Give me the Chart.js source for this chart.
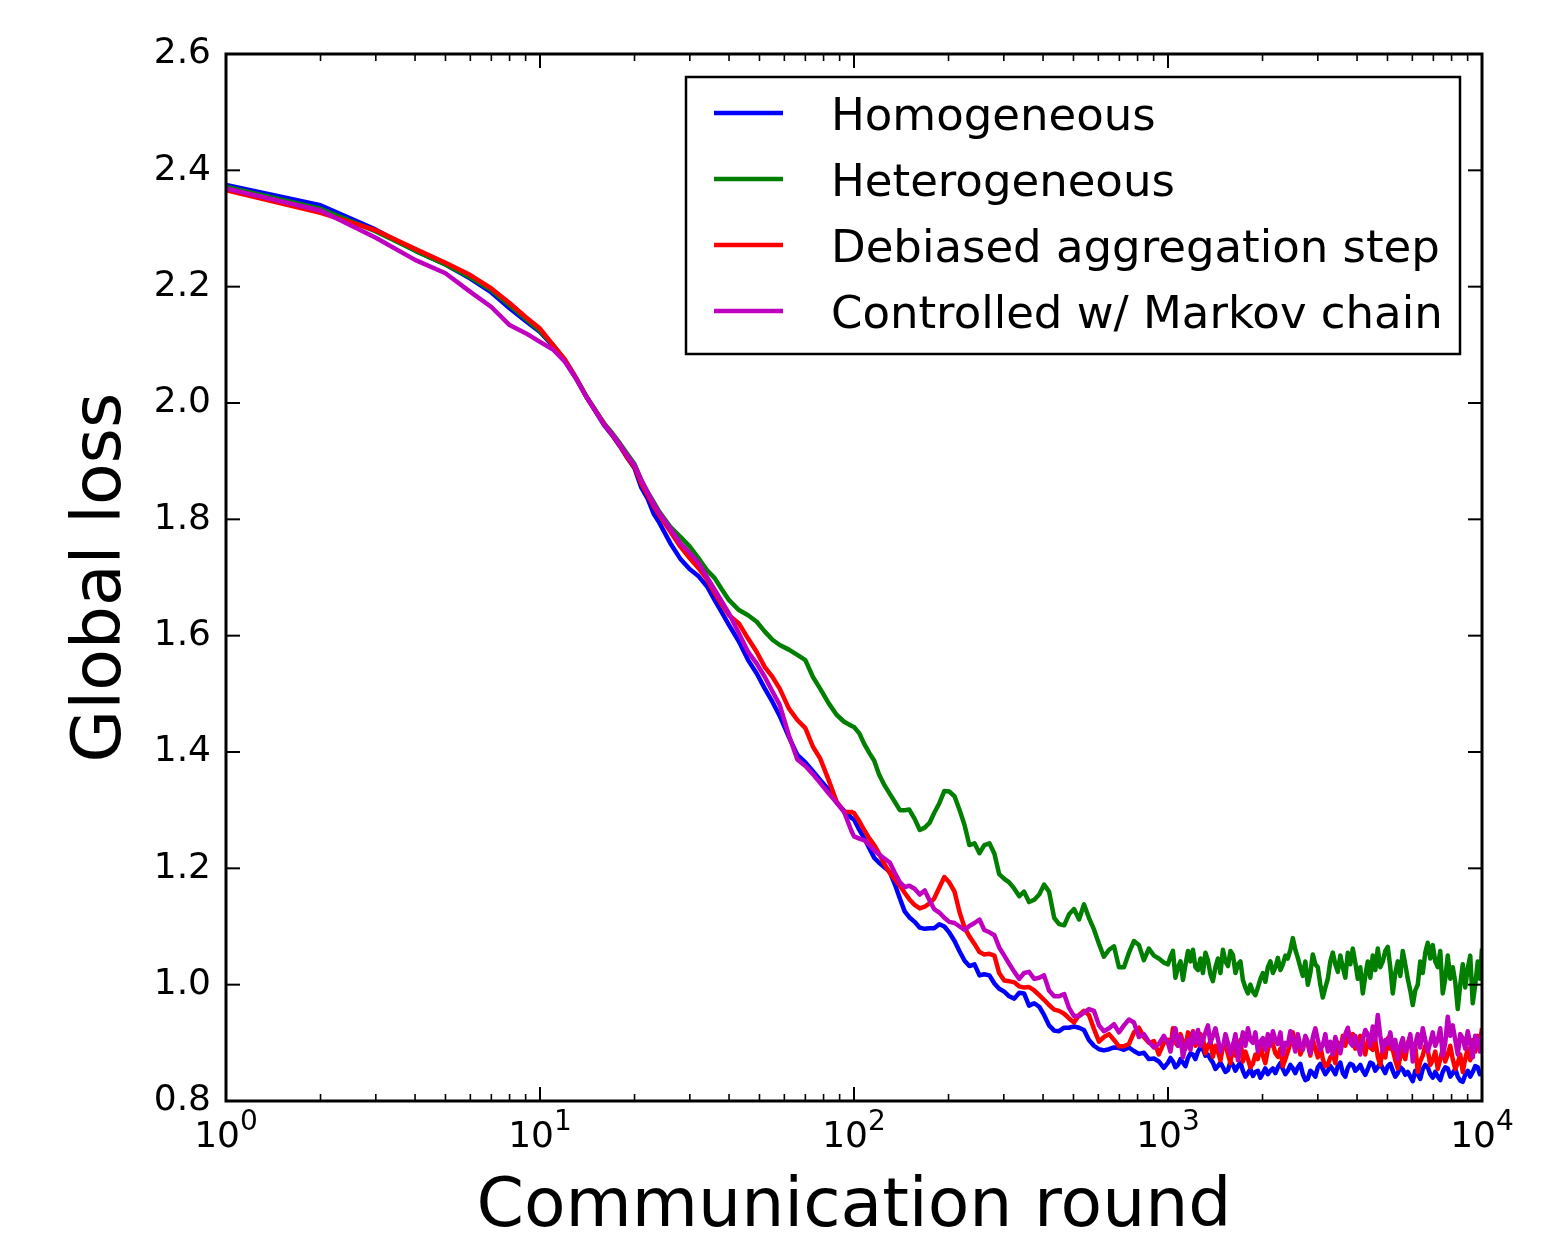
<!DOCTYPE html>
<html><head><meta charset="utf-8">
<script src="https://cdn.jsdelivr.net/npm/chart.js@4.4.1/dist/chart.umd.min.js"></script>
<style>html,body{margin:0;padding:0;background:#fff;} canvas{display:block;}</style>
</head><body>
<canvas id="c" width="1566" height="1234"></canvas>
<script>
const rounds = [1,2,3,4,5,6,7,8,9,10,11,12,13,14,15,16,17,18,19,20,
21,22,23,24,26,28,30,32,34,36,38,40,43,46,49,52,55,58,62,66,70,74,78,83,88,93,98,
100,104,108,112,116,120,125,130,135,140,145,150,156,162,168,174,180,187,194,201,209,217,225,233,242,251,260,270,280,290,301,312,324,336,348,361,375,389,403,418,434,450,467,484,502,521,540,560,581,603,625,649,673,698,724,751,779,808,838,869,902,935,970,
1000,1018,1037,1056,1076,1096,1116,1137,1158,1179,1201,1223,1246,1269,1292,1316,1340,1365,1390,1416,1442,1469,1496,1524,1552,1581,1610,1640,1670,1701,1732,1764,1797,1830,1864,1898,1933,1969,2005,2042,2080,2119,2158,2198,2238,2280,2322,2365,2408,2453,2498,2544,2591,2639,2688,2738,2788,2840,2892,2946,3000,3056,3112,3170,3228,3288,3349,3411,3474,3538,3603,3670,3738,3807,3877,3949,4022,4096,4172,4249,4328,4408,4489,4572,4657,4743,4831,4920,5011,5104,5198,5294,5392,5492,5593,5697,5802,5910,6019,6130,6243,6358,6476,6596,6718,6842,6969,7098,7229,7363,7499,7638,7779,7923,8069,8218,8370,8525,8683,8843,9007,9174,9343,9516,9692,9845,10000];

const homogeneous = [2.375,2.340,2.298,2.262,2.238,2.214,2.190,2.163,2.141,2.122,2.098,2.072,2.043,2.012,1.986,1.962,1.944,1.925,1.905,1.888,
1.855,1.836,1.810,1.794,1.759,1.732,1.714,1.702,1.685,1.661,1.639,1.618,1.590,1.558,1.535,1.509,1.486,1.462,1.426,1.395,1.382,1.367,1.352,1.335,1.313,1.299,1.287,
1.284,1.266,1.251,1.234,1.218,1.210,1.202,1.194,1.172,1.148,1.126,1.116,1.108,1.098,1.096,1.097,1.097,1.104,1.100,1.090,1.075,1.057,1.041,1.032,1.035,1.016,1.018,1.016,1.002,0.993,0.988,0.980,0.976,0.986,0.985,0.964,0.968,0.962,0.948,0.930,0.921,0.920,0.926,0.926,0.928,0.926,0.922,0.905,0.895,0.889,0.887,0.889,0.892,0.891,0.888,0.892,0.886,0.881,0.883,0.872,0.873,0.868,0.857,
0.866,0.874,0.868,0.858,0.862,0.872,0.866,0.860,0.874,0.882,0.880,0.872,0.885,0.892,0.889,0.878,0.880,0.872,0.866,0.855,0.860,0.866,0.858,0.850,0.853,0.868,0.862,0.852,0.860,0.866,0.852,0.842,0.848,0.855,0.843,0.850,0.852,0.840,0.848,0.856,0.846,0.852,0.856,0.848,0.858,0.865,0.855,0.846,0.852,0.862,0.856,0.848,0.858,0.864,0.846,0.836,0.838,0.852,0.848,0.842,0.858,0.864,0.855,0.846,0.852,0.860,0.854,0.846,0.860,0.866,0.848,0.842,0.857,0.864,0.862,0.852,0.856,0.862,0.852,0.845,0.855,0.866,0.864,0.852,0.858,0.865,0.856,0.848,0.860,0.864,0.852,0.842,0.848,0.858,0.854,0.845,0.850,0.842,0.834,0.852,0.846,0.838,0.855,0.862,0.858,0.846,0.840,0.850,0.842,0.836,0.850,0.858,0.856,0.842,0.848,0.855,0.842,0.835,0.833,0.845,0.852,0.842,0.850,0.860,0.858,0.846,0.853];

const heterogeneous = [2.372,2.334,2.295,2.262,2.238,2.216,2.194,2.168,2.145,2.124,2.100,2.074,2.044,2.013,1.988,1.965,1.948,1.930,1.912,1.895,
1.868,1.847,1.830,1.813,1.787,1.770,1.753,1.733,1.713,1.699,1.679,1.661,1.644,1.635,1.624,1.607,1.593,1.584,1.576,1.567,1.558,1.529,1.509,1.484,1.464,1.452,1.445,
1.443,1.432,1.413,1.398,1.385,1.362,1.343,1.328,1.314,1.300,1.300,1.301,1.285,1.266,1.270,1.278,1.295,1.312,1.333,1.332,1.324,1.300,1.274,1.240,1.243,1.226,1.240,1.243,1.225,1.190,1.182,1.176,1.165,1.152,1.160,1.142,1.146,1.155,1.172,1.160,1.115,1.104,1.102,1.121,1.130,1.112,1.138,1.115,1.095,1.070,1.048,1.060,1.066,1.030,1.030,1.055,1.075,1.068,1.042,1.062,1.050,1.045,1.038,
1.035,1.048,1.058,1.012,1.030,1.040,1.008,1.035,1.058,1.040,1.060,1.030,1.025,1.045,1.020,1.055,1.042,1.018,1.006,1.030,1.045,1.020,1.060,1.040,1.032,1.058,1.051,1.020,1.035,1.040,1.008,0.995,0.985,1.000,0.988,0.982,0.995,1.010,1.020,1.005,1.030,1.040,1.020,1.030,1.046,1.025,1.035,1.050,1.045,1.060,1.080,1.060,1.046,1.030,1.015,1.040,1.000,1.020,1.052,1.035,1.030,1.000,0.978,0.995,1.010,1.040,1.055,1.035,1.022,1.050,1.030,1.012,1.055,1.035,1.062,1.038,1.010,1.030,0.985,1.015,1.040,1.012,1.050,1.025,1.062,1.030,1.040,1.058,1.065,1.030,0.985,1.020,1.040,1.015,1.058,1.035,1.010,0.990,0.965,0.990,1.000,1.040,1.020,1.055,1.072,1.045,1.068,1.040,1.030,1.058,0.985,1.010,1.050,1.010,1.030,1.005,0.958,1.000,1.035,0.995,1.028,1.050,0.968,1.000,1.040,1.010,1.062];

const debiased = [2.366,2.327,2.297,2.265,2.241,2.220,2.197,2.172,2.148,2.128,2.100,2.075,2.044,2.012,1.987,1.964,1.945,1.926,1.906,1.890,
1.862,1.842,1.823,1.807,1.779,1.753,1.733,1.716,1.697,1.673,1.653,1.635,1.621,1.595,1.572,1.546,1.529,1.509,1.475,1.455,1.441,1.409,1.389,1.352,1.315,1.297,1.297,
1.295,1.281,1.265,1.251,1.240,1.226,1.207,1.192,1.181,1.170,1.158,1.147,1.137,1.131,1.134,1.140,1.148,1.167,1.185,1.176,1.160,1.124,1.098,1.083,1.070,1.056,1.052,1.053,1.050,1.020,1.007,1.006,1.004,0.997,0.995,0.996,0.990,0.982,0.974,0.965,0.957,0.955,0.950,0.942,0.935,0.948,0.955,0.948,0.924,0.902,0.910,0.915,0.905,0.894,0.894,0.898,0.918,0.926,0.910,0.900,0.903,0.880,0.900,
0.905,0.890,0.925,0.900,0.895,0.915,0.902,0.890,0.918,0.900,0.920,0.895,0.900,0.915,0.908,0.882,0.895,0.902,0.876,0.895,0.885,0.870,0.893,0.900,0.880,0.865,0.898,0.878,0.890,0.905,0.868,0.885,0.872,0.858,0.864,0.880,0.872,0.895,0.878,0.865,0.888,0.905,0.898,0.882,0.876,0.890,0.860,0.872,0.885,0.900,0.918,0.895,0.905,0.880,0.890,0.910,0.898,0.878,0.905,0.890,0.875,0.895,0.872,0.860,0.862,0.875,0.880,0.865,0.900,0.888,0.912,0.895,0.922,0.905,0.915,0.890,0.898,0.912,0.900,0.880,0.905,0.892,0.888,0.905,0.876,0.862,0.890,0.875,0.908,0.890,0.888,0.870,0.856,0.875,0.890,0.872,0.900,0.910,0.880,0.895,0.850,0.868,0.878,0.895,0.888,0.862,0.870,0.885,0.855,0.872,0.890,0.868,0.880,0.895,0.872,0.855,0.865,0.880,0.850,0.872,0.890,0.870,0.905,0.885,0.912,0.895,0.925];

const markov = [2.369,2.331,2.284,2.246,2.223,2.191,2.165,2.134,2.120,2.105,2.092,2.071,2.043,2.012,1.987,1.963,1.946,1.928,1.909,1.893,
1.868,1.847,1.827,1.811,1.784,1.759,1.742,1.725,1.701,1.679,1.658,1.638,1.604,1.572,1.552,1.529,1.504,1.481,1.429,1.387,1.376,1.362,1.347,1.329,1.313,1.297,1.265,
1.255,1.251,1.248,1.240,1.231,1.224,1.217,1.210,1.192,1.176,1.168,1.170,1.165,1.155,1.162,1.145,1.130,1.124,1.115,1.108,1.106,1.100,1.094,1.101,1.106,1.112,1.094,1.090,1.085,1.064,1.050,1.036,1.022,1.010,1.020,1.022,1.010,1.012,1.016,0.990,0.980,0.980,0.984,0.960,0.946,0.946,0.952,0.958,0.955,0.930,0.920,0.925,0.932,0.918,0.930,0.940,0.935,0.910,0.915,0.902,0.892,0.898,0.912,
0.900,0.885,0.912,0.925,0.895,0.910,0.875,0.895,0.905,0.888,0.918,0.900,0.922,0.895,0.905,0.918,0.930,0.900,0.912,0.925,0.906,0.885,0.893,0.915,0.900,0.880,0.895,0.915,0.870,0.895,0.918,0.895,0.925,0.905,0.900,0.918,0.885,0.902,0.908,0.888,0.915,0.895,0.920,0.905,0.898,0.918,0.880,0.900,0.896,0.920,0.905,0.885,0.915,0.895,0.888,0.912,0.902,0.882,0.910,0.925,0.905,0.888,0.896,0.915,0.885,0.902,0.880,0.910,0.895,0.882,0.905,0.915,0.926,0.900,0.895,0.912,0.895,0.880,0.905,0.922,0.915,0.895,0.928,0.905,0.948,0.912,0.885,0.905,0.898,0.918,0.890,0.905,0.872,0.895,0.908,0.885,0.895,0.915,0.868,0.898,0.915,0.892,0.925,0.905,0.885,0.900,0.918,0.895,0.905,0.925,0.878,0.900,0.945,0.912,0.930,0.905,0.880,0.915,0.908,0.890,0.920,0.898,0.875,0.912,0.905,0.885,0.918];

const seriesLabels = ['Homogeneous','Heterogeneous','Debiased aggregation step','Controlled w/ Markov chain'];
const seriesColors = ['#0000ff','#007f00','#ff0000','#bf00bf'];
const seriesValues = [homogeneous, heterogeneous, debiased, markov];
const yTickValues = [0.8,1.0,1.2,1.4,1.6,1.8,2.0,2.2,2.4,2.6];
const xTickValues = [1,10,100,1000,10000];
const xTickBase = '10';
const xTickExps = ['0','1','2','3','4'];
const xLabel = 'Communication round';
const yLabel = 'Global loss';

Chart.defaults.font.family = '"DejaVu Sans", sans-serif';
Chart.defaults.color = '#000';

const datasets = seriesValues.map((vals, k) => ({
  label: seriesLabels[k],
  data: rounds.map((r, i) => ({x: r, y: vals[i]})),
  borderColor: seriesColors[k],
  backgroundColor: seriesColors[k],
  borderWidth: 4.5,
  pointRadius: 0,
  tension: 0,
  fill: false,
  borderJoinStyle: 'round',
  order: seriesValues.length - 1 - k
}));

function seg(ctx, x1, y1, x2, y2) { ctx.beginPath(); ctx.moveTo(x1, y1); ctx.lineTo(x2, y2); ctx.stroke(); }

const decorPlugin = {
  id: 'decor',
  afterDatasetsDraw(chart) {
    const {ctx, chartArea: a, scales: {x, y}} = chart;
    ctx.save();
    ctx.strokeStyle = '#000';
    ctx.lineWidth = 2;
    yTickValues.forEach(v => {
      const py = y.getPixelForValue(v);
      seg(ctx, a.left, py, a.left + 14, py);
      seg(ctx, a.right, py, a.right - 14, py);
    });
    xTickValues.forEach(v => {
      const px = x.getPixelForValue(v);
      seg(ctx, px, a.bottom, px, a.bottom - 14);
      seg(ctx, px, a.top, px, a.top + 14);
    });
    ctx.lineWidth = 1.6;
    for (let d = 0; d < xTickValues.length - 1; d++) {
      for (let m = 2; m <= 9; m++) {
        const px = x.getPixelForValue(xTickValues[d] * m);
        seg(ctx, px, a.bottom, px, a.bottom - 7);
        seg(ctx, px, a.top, px, a.top + 7);
      }
    }
    ctx.lineWidth = 3;
    ctx.strokeRect(a.left, a.top, a.right - a.left, a.bottom - a.top);

    ctx.fillStyle = '#000';
    ctx.textBaseline = 'alphabetic';
    ctx.textAlign = 'left';
    const baseFont = '36px "DejaVu Sans"', expFont = '28px "DejaVu Sans"';
    xTickValues.forEach((v, i) => {
      const px = x.getPixelForValue(v);
      ctx.font = baseFont; const wb = ctx.measureText(xTickBase).width;
      ctx.font = expFont; const we = ctx.measureText(xTickExps[i]).width;
      const x0 = px - (wb + we) / 2;
      ctx.font = baseFont; ctx.fillText(xTickBase, x0, a.bottom + 46);
      ctx.font = expFont; ctx.fillText(xTickExps[i], x0 + wb, a.bottom + 29);
    });

    const bx = 686, by = 77, bw = 774, bh = 277;
    ctx.fillStyle = '#fff';
    ctx.fillRect(bx, by, bw, bh);
    ctx.lineWidth = 2.5;
    ctx.strokeStyle = '#000';
    ctx.strokeRect(bx, by, bw, bh);
    ctx.font = '45px "DejaVu Sans"';
    seriesLabels.forEach((lab, k) => {
      const ry = 113 + k * 66;
      ctx.strokeStyle = seriesColors[k];
      ctx.lineWidth = 4.5;
      seg(ctx, 714, ry, 783, ry);
      ctx.fillStyle = '#000';
      ctx.fillText(lab, 831, ry + 17);
    });
    ctx.restore();
  }
};

new Chart(document.getElementById('c'), {
  type: 'line',
  data: {datasets},
  options: {
    responsive: false,
    devicePixelRatio: 1,
    animation: false,
    layout: {padding: {top: 54, right: 84, left: 0, bottom: 0}},
    plugins: {legend: {display: false}, tooltip: {enabled: false}},
    scales: {
      x: {
        type: 'logarithmic', min: 1, max: 10000,
        grid: {display: false, drawTicks: false},
        border: {display: false},
        ticks: {display: false},
        afterBuildTicks: s => { s.ticks = xTickValues.map(v => ({value: v})); },
        afterFit: s => { s.height = 133; },
        title: {display: true, text: xLabel, font: {size: 68, lineHeight: 0.7}, padding: {top: 0, bottom: 1.5}, color: '#000'}
      },
      y: {
        type: 'linear', min: 0.8, max: 2.6,
        grid: {display: false, drawTicks: false},
        border: {display: false},
        afterBuildTicks: s => { s.ticks = yTickValues.map(v => ({value: v})); },
        ticks: {autoSkip: false, font: {size: 36}, color: '#000', padding: 15, callback: v => Number(v).toFixed(1)},
        afterFit: s => { s.width = 226; },
        title: {display: true, text: yLabel, font: {size: 68, lineHeight: 0.8}, padding: {top: 75, bottom: 0}, color: '#000'}
      }
    }
  },
  plugins: [decorPlugin]
});
</script>
</body></html>
